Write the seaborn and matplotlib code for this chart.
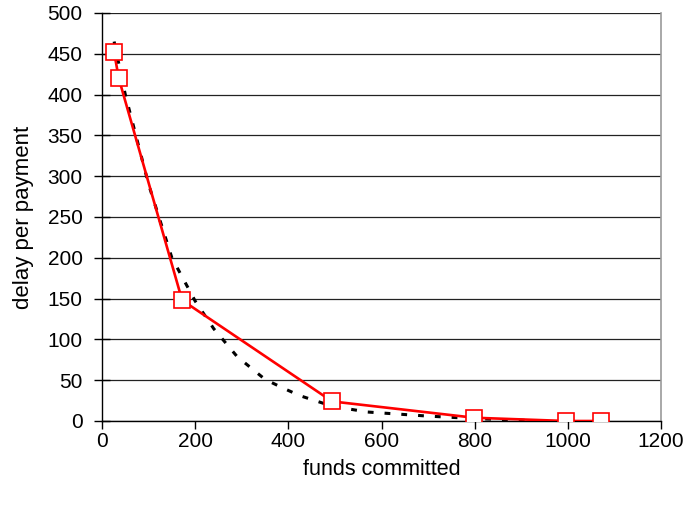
import matplotlib
matplotlib.use("Agg")
import matplotlib.pyplot as plt
import seaborn as sns
import pandas as pd

# measured series (red, square markers)
funds = [26, 36, 172, 494, 799, 996, 1071]
delay = [452, 420, 148, 24, 4, 0, 0]

# fitted / trend series (black dashed)
trend_funds = [26, 50, 100, 150, 200, 240, 290, 350, 390, 425, 495, 570, 700, 800, 900, 950]
trend_delay = [465, 400, 290, 200, 147, 113, 79, 51, 40, 31, 18, 11, 6, 3, 1, 0]

x_ticks = [0, 200, 400, 600, 800, 1000, 1200]
y_ticks = list(range(0, 501, 50))

sns.set_style("white")
plt.rcParams["font.family"] = ["Liberation Sans", "DejaVu Sans"]

fig = plt.figure(figsize=(6.88, 5.05), dpi=100)
ax = fig.add_axes([102 / 688, 1 - 421 / 505, (661 - 102) / 688, (421 - 13) / 505])

trend = pd.DataFrame({"funds": trend_funds, "delay": trend_delay})
data = pd.DataFrame({"funds": funds, "delay": delay})

sns.lineplot(data=trend, x="funds", y="delay", ax=ax, color="black",
             linestyle=(0, (1.9, 3.6)), linewidth=2.2, sort=False, zorder=3)
sns.lineplot(data=data, x="funds", y="delay", ax=ax, color="#ff0000",
             linewidth=1.9, marker="s", markersize=11, markerfacecolor="white",
             markeredgecolor="#ff0000", markeredgewidth=1.2, sort=False, zorder=4)

ax.set_xlim(0, 1200)
ax.set_ylim(0, 500)
ax.set_xticks(x_ticks)
ax.set_yticks(y_ticks)
ax.yaxis.grid(True, color="#222222", linewidth=0.9)
ax.xaxis.grid(False)

for side in ["left", "bottom"]:
    ax.spines[side].set_color("black")
    ax.spines[side].set_linewidth(1.0)
ax.spines["top"].set_visible(False)
ax.spines["right"].set_color("#999999")
ax.spines["right"].set_linewidth(1.2)

ax.tick_params(axis="x", direction="out", length=6, width=1, color="black",
               labelsize=15, labelcolor="black", bottom=True, pad=2)
ax.tick_params(axis="y", direction="inout", length=12, width=1, color="black",
               labelsize=15, labelcolor="black", left=True, pad=8)

ax.set_xlabel("funds committed", fontsize=15.5, color="black", labelpad=6)
ax.set_ylabel("delay per payment", fontsize=16, color="black", labelpad=10)

fig.savefig("out.png", dpi=100)
plt.close(fig)
